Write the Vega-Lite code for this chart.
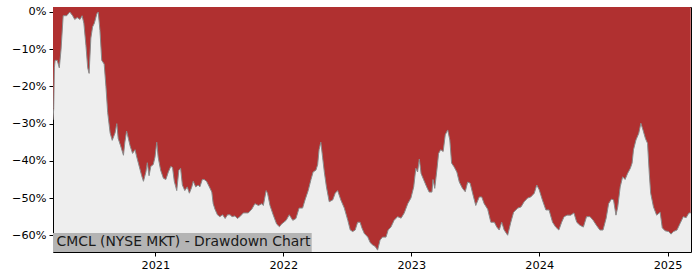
{
  "$schema": "https://vega.github.io/schema/vega-lite/v6.json",
  "width": 638,
  "height": 245,
  "autosize": {"type": "none"},
  "padding": {"left": 53, "top": 7, "right": 9, "bottom": 28},
  "config": {
    "view": {"fill": "#eeeeee", "stroke": "#000000", "strokeWidth": 1},
    "font": "DejaVu Sans"
  },
  "datasets": {
    "dd": [
      {"date":"2020-03-15","v":-0.29},{"date":"2020-03-17","v":-0.26},{"date":"2020-03-19","v":-0.15},{"date":"2020-03-21","v":-0.13},{"date":"2020-03-27","v":-0.13},{"date":"2020-04-02","v":-0.15},{"date":"2020-04-07","v":-0.10},{"date":"2020-04-13","v":-0.01},{"date":"2020-04-23","v":-0.01},{"date":"2020-05-02","v":0.0},{"date":"2020-05-10","v":-0.01},{"date":"2020-05-16","v":-0.02},{"date":"2020-05-23","v":-0.015},{"date":"2020-05-31","v":-0.02},{"date":"2020-06-06","v":-0.01},{"date":"2020-06-11","v":-0.03},{"date":"2020-06-17","v":-0.09},{"date":"2020-06-22","v":-0.15},{"date":"2020-06-26","v":-0.165},{"date":"2020-07-01","v":-0.07},{"date":"2020-07-06","v":-0.04},{"date":"2020-07-11","v":-0.03},{"date":"2020-07-18","v":-0.005},{"date":"2020-07-22","v":0.0},{"date":"2020-07-27","v":-0.05},{"date":"2020-08-01","v":-0.13},{"date":"2020-08-08","v":-0.14},{"date":"2020-08-13","v":-0.20},{"date":"2020-08-18","v":-0.27},{"date":"2020-08-25","v":-0.325},{"date":"2020-08-31","v":-0.345},{"date":"2020-09-08","v":-0.325},{"date":"2020-09-13","v":-0.30},{"date":"2020-09-17","v":-0.34},{"date":"2020-09-24","v":-0.36},{"date":"2020-10-02","v":-0.385},{"date":"2020-10-06","v":-0.35},{"date":"2020-10-11","v":-0.32},{"date":"2020-10-16","v":-0.34},{"date":"2020-10-21","v":-0.36},{"date":"2020-10-28","v":-0.38},{"date":"2020-11-04","v":-0.37},{"date":"2020-11-09","v":-0.39},{"date":"2020-11-16","v":-0.415},{"date":"2020-11-23","v":-0.44},{"date":"2020-11-28","v":-0.455},{"date":"2020-12-05","v":-0.43},{"date":"2020-12-09","v":-0.405},{"date":"2020-12-14","v":-0.44},{"date":"2020-12-19","v":-0.415},{"date":"2020-12-26","v":-0.41},{"date":"2020-12-31","v":-0.39},{"date":"2021-01-05","v":-0.35},{"date":"2021-01-09","v":-0.39},{"date":"2021-01-16","v":-0.425},{"date":"2021-01-24","v":-0.447},{"date":"2021-01-31","v":-0.45},{"date":"2021-02-07","v":-0.43},{"date":"2021-02-14","v":-0.415},{"date":"2021-02-19","v":-0.418},{"date":"2021-02-24","v":-0.455},{"date":"2021-03-03","v":-0.48},{"date":"2021-03-09","v":-0.425},{"date":"2021-03-14","v":-0.42},{"date":"2021-03-19","v":-0.465},{"date":"2021-03-26","v":-0.48},{"date":"2021-04-02","v":-0.47},{"date":"2021-04-08","v":-0.487},{"date":"2021-04-15","v":-0.47},{"date":"2021-04-19","v":-0.455},{"date":"2021-04-26","v":-0.47},{"date":"2021-05-03","v":-0.465},{"date":"2021-05-08","v":-0.47},{"date":"2021-05-15","v":-0.45},{"date":"2021-05-20","v":-0.45},{"date":"2021-05-27","v":-0.455},{"date":"2021-06-04","v":-0.47},{"date":"2021-06-11","v":-0.484},{"date":"2021-06-15","v":-0.515},{"date":"2021-06-20","v":-0.53},{"date":"2021-06-27","v":-0.545},{"date":"2021-07-04","v":-0.55},{"date":"2021-07-12","v":-0.545},{"date":"2021-07-19","v":-0.555},{"date":"2021-07-26","v":-0.545},{"date":"2021-08-02","v":-0.545},{"date":"2021-08-08","v":-0.55},{"date":"2021-08-16","v":-0.548},{"date":"2021-08-23","v":-0.555},{"date":"2021-08-30","v":-0.55},{"date":"2021-09-09","v":-0.54},{"date":"2021-09-23","v":-0.54},{"date":"2021-10-03","v":-0.53},{"date":"2021-10-12","v":-0.515},{"date":"2021-10-22","v":-0.52},{"date":"2021-11-01","v":-0.515},{"date":"2021-11-05","v":-0.52},{"date":"2021-11-13","v":-0.48},{"date":"2021-11-17","v":-0.487},{"date":"2021-11-24","v":-0.52},{"date":"2021-12-03","v":-0.545},{"date":"2021-12-13","v":-0.57},{"date":"2021-12-21","v":-0.577},{"date":"2021-12-27","v":-0.57},{"date":"2022-01-09","v":-0.56},{"date":"2022-01-18","v":-0.545},{"date":"2022-01-28","v":-0.56},{"date":"2022-02-06","v":-0.555},{"date":"2022-02-15","v":-0.527},{"date":"2022-02-25","v":-0.527},{"date":"2022-03-04","v":-0.505},{"date":"2022-03-13","v":-0.48},{"date":"2022-03-21","v":-0.45},{"date":"2022-03-27","v":-0.43},{"date":"2022-04-04","v":-0.425},{"date":"2022-04-09","v":-0.41},{"date":"2022-04-13","v":-0.37},{"date":"2022-04-18","v":-0.35},{"date":"2022-04-23","v":-0.39},{"date":"2022-04-28","v":-0.43},{"date":"2022-05-04","v":-0.47},{"date":"2022-05-12","v":-0.51},{"date":"2022-05-22","v":-0.505},{"date":"2022-05-29","v":-0.487},{"date":"2022-06-05","v":-0.48},{"date":"2022-06-14","v":-0.505},{"date":"2022-06-24","v":-0.527},{"date":"2022-07-04","v":-0.56},{"date":"2022-07-11","v":-0.586},{"date":"2022-07-18","v":-0.59},{"date":"2022-07-25","v":-0.586},{"date":"2022-08-01","v":-0.565},{"date":"2022-08-08","v":-0.565},{"date":"2022-08-13","v":-0.58},{"date":"2022-08-20","v":-0.595},{"date":"2022-08-30","v":-0.605},{"date":"2022-09-06","v":-0.62},{"date":"2022-09-13","v":-0.626},{"date":"2022-09-20","v":-0.63},{"date":"2022-09-27","v":-0.64},{"date":"2022-10-04","v":-0.613},{"date":"2022-10-11","v":-0.605},{"date":"2022-10-21","v":-0.605},{"date":"2022-10-27","v":-0.586},{"date":"2022-11-04","v":-0.578},{"date":"2022-11-13","v":-0.56},{"date":"2022-11-23","v":-0.55},{"date":"2022-12-03","v":-0.554},{"date":"2022-12-12","v":-0.54},{"date":"2022-12-22","v":-0.515},{"date":"2022-12-31","v":-0.50},{"date":"2023-01-08","v":-0.47},{"date":"2023-01-14","v":-0.42},{"date":"2023-01-19","v":-0.43},{"date":"2023-01-24","v":-0.395},{"date":"2023-01-29","v":-0.434},{"date":"2023-02-05","v":-0.45},{"date":"2023-02-14","v":-0.47},{"date":"2023-02-21","v":-0.484},{"date":"2023-03-01","v":-0.484},{"date":"2023-03-04","v":-0.45},{"date":"2023-03-09","v":-0.474},{"date":"2023-03-15","v":-0.425},{"date":"2023-03-20","v":-0.38},{"date":"2023-03-26","v":-0.37},{"date":"2023-04-02","v":-0.375},{"date":"2023-04-08","v":-0.33},{"date":"2023-04-15","v":-0.317},{"date":"2023-04-21","v":-0.344},{"date":"2023-04-26","v":-0.406},{"date":"2023-05-03","v":-0.416},{"date":"2023-05-11","v":-0.43},{"date":"2023-05-18","v":-0.457},{"date":"2023-05-27","v":-0.474},{"date":"2023-06-04","v":-0.483},{"date":"2023-06-11","v":-0.457},{"date":"2023-06-18","v":-0.46},{"date":"2023-06-25","v":-0.487},{"date":"2023-07-04","v":-0.52},{"date":"2023-07-14","v":-0.497},{"date":"2023-07-21","v":-0.497},{"date":"2023-07-28","v":-0.515},{"date":"2023-08-07","v":-0.53},{"date":"2023-08-16","v":-0.565},{"date":"2023-08-26","v":-0.565},{"date":"2023-09-02","v":-0.578},{"date":"2023-09-09","v":-0.586},{"date":"2023-09-16","v":-0.565},{"date":"2023-09-23","v":-0.586},{"date":"2023-10-03","v":-0.60},{"date":"2023-10-12","v":-0.565},{"date":"2023-10-20","v":-0.538},{"date":"2023-11-01","v":-0.527},{"date":"2023-11-10","v":-0.524},{"date":"2023-11-19","v":-0.51},{"date":"2023-11-29","v":-0.50},{"date":"2023-12-08","v":-0.497},{"date":"2023-12-18","v":-0.487},{"date":"2023-12-25","v":-0.465},{"date":"2024-01-01","v":-0.478},{"date":"2024-01-10","v":-0.505},{"date":"2024-01-20","v":-0.532},{"date":"2024-01-29","v":-0.532},{"date":"2024-02-08","v":-0.565},{"date":"2024-02-17","v":-0.578},{"date":"2024-02-26","v":-0.586},{"date":"2024-03-05","v":-0.565},{"date":"2024-03-12","v":-0.55},{"date":"2024-03-21","v":-0.546},{"date":"2024-03-31","v":-0.546},{"date":"2024-04-09","v":-0.54},{"date":"2024-04-17","v":-0.565},{"date":"2024-04-26","v":-0.573},{"date":"2024-05-06","v":-0.578},{"date":"2024-05-15","v":-0.55},{"date":"2024-05-25","v":-0.55},{"date":"2024-06-03","v":-0.56},{"date":"2024-06-12","v":-0.573},{"date":"2024-06-22","v":-0.586},{"date":"2024-07-01","v":-0.586},{"date":"2024-07-10","v":-0.554},{"date":"2024-07-17","v":-0.515},{"date":"2024-07-25","v":-0.503},{"date":"2024-07-31","v":-0.505},{"date":"2024-08-07","v":-0.546},{"date":"2024-08-12","v":-0.524},{"date":"2024-08-19","v":-0.47},{"date":"2024-08-26","v":-0.443},{"date":"2024-09-02","v":-0.45},{"date":"2024-09-09","v":-0.434},{"date":"2024-09-17","v":-0.42},{"date":"2024-09-22","v":-0.406},{"date":"2024-09-26","v":-0.37},{"date":"2024-10-03","v":-0.344},{"date":"2024-10-11","v":-0.326},{"date":"2024-10-17","v":-0.299},{"date":"2024-10-23","v":-0.317},{"date":"2024-10-30","v":-0.34},{"date":"2024-11-05","v":-0.353},{"date":"2024-11-10","v":-0.434},{"date":"2024-11-14","v":-0.487},{"date":"2024-11-22","v":-0.524},{"date":"2024-12-01","v":-0.546},{"date":"2024-12-11","v":-0.538},{"date":"2024-12-17","v":-0.58},{"date":"2024-12-25","v":-0.588},{"date":"2025-01-04","v":-0.59},{"date":"2025-01-11","v":-0.597},{"date":"2025-01-18","v":-0.59},{"date":"2025-01-28","v":-0.586},{"date":"2025-02-06","v":-0.568},{"date":"2025-02-15","v":-0.55},{"date":"2025-02-23","v":-0.553},{"date":"2025-03-03","v":-0.54},{"date":"2025-03-08","v":-0.54}
    ],
    "label": [
      {"start":"2020-03-15","end":"2022-03-23","lo":-0.645,"hi":-0.594,"tx":"2020-03-25","ty":-0.619,"text":"CMCL (NYSE MKT) - Drawdown Chart"}
    ]
  },
  "layer": [
    {
      "data": {"name": "dd"},
      "mark": {"type": "area", "color": "#b03030", "clip": true, "interpolate": "linear"},
      "encoding": {
        "x": {
          "field": "date", "type": "temporal",
          "scale": {"domain": [{"year": 2020, "month": 3, "date": 15}, {"year": 2025, "month": 3, "date": 9}]},
          "axis": {
            "format": "%Y", "title": null, "grid": false, "domain": false,
            "tickCount": {"interval": "year", "step": 1},
            "tickColor": "#000000", "tickSize": 4, "labelColor": "#000000",
            "labelFontSize": 11.3, "labelPadding": 3, "labelFont": "DejaVu Sans"
          }
        },
        "y": {
          "field": "v", "type": "quantitative",
          "scale": {"domain": [-0.645, 0.0134], "nice": false, "zero": false},
          "axis": {
            "format": ".0%", "title": null, "grid": false, "domain": false,
            "values": [0, -0.1, -0.2, -0.3, -0.4, -0.5, -0.6],
            "tickColor": "#000000", "tickSize": 4, "labelColor": "#000000",
            "labelFontSize": 11.3, "labelPadding": 3, "labelFont": "DejaVu Sans"
          }
        },
        "y2": {"datum": 0.0134}
      }
    },
    {
      "data": {"name": "dd"},
      "mark": {"type": "line", "color": "#8a8a8a", "strokeWidth": 1, "clip": true},
      "encoding": {
        "x": {"field": "date", "type": "temporal"},
        "y": {"field": "v", "type": "quantitative"}
      }
    },
    {
      "data": {"name": "label"},
      "mark": {"type": "rect", "color": "#b4b4b4"},
      "encoding": {
        "x": {"field": "start", "type": "temporal"},
        "x2": {"field": "end"},
        "y": {"field": "lo", "type": "quantitative"},
        "y2": {"field": "hi"}
      }
    },
    {
      "data": {"name": "label"},
      "mark": {"type": "text", "align": "left", "baseline": "middle", "fontSize": 13.9, "font": "DejaVu Sans", "color": "#1a1a1a"},
      "encoding": {
        "x": {"field": "tx", "type": "temporal"},
        "y": {"field": "ty", "type": "quantitative"},
        "text": {"field": "text"}
      }
    }
  ]
}
